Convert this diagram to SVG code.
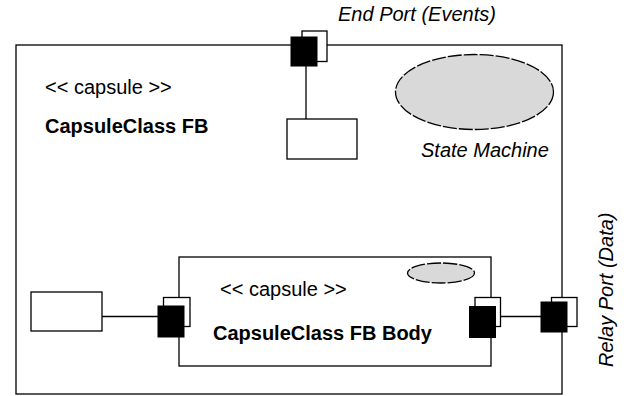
<svg xmlns="http://www.w3.org/2000/svg" width="629" height="396" viewBox="0 0 629 396">
<style>
.box{fill:#fff;stroke:#000;stroke-width:1.3}
.pw{fill:#fff;stroke:#000;stroke-width:1.3}
.pb{fill:#000;stroke:#000;stroke-width:1}
.sm{fill:#d9d9d9;stroke:#000;stroke-width:1.3;stroke-dasharray:14 2}
.ln{stroke:#000;stroke-width:1.3;fill:none}
text{font-family:"Liberation Sans",Arial,sans-serif;font-size:20px;fill:#000}
.b{font-weight:bold}
.i{font-style:italic}
</style>
<rect width="629" height="396" fill="#fff"/>
<g id="capsule-fb">
<rect class="box" x="16" y="45" width="546" height="349"/>
<text x="45" y="94">&lt;&lt; capsule &gt;&gt;</text>
<text class="b" x="45" y="133">CapsuleClass FB</text>
</g>
<g id="state-machine">
<ellipse class="sm" cx="474.5" cy="92" rx="79" ry="37.5"/>
<text class="i" x="421" y="157">State Machine</text>
</g>
<g id="capsule-fb-body">
<rect class="box" x="179" y="257" width="312" height="109"/>
<ellipse class="sm" cx="441" cy="273" rx="33.5" ry="10"/>
<text x="220" y="296">&lt;&lt; capsule &gt;&gt;</text>
<text class="b" x="213" y="340">CapsuleClass FB Body</text>
</g>
<g id="left-box">
<rect class="box" x="31" y="292" width="71" height="39"/>
</g>
<g id="event-box">
<rect class="box" x="287" y="119" width="70" height="40"/>
</g>
<g id="connectors">
<line class="ln" x1="306" y1="66" x2="306" y2="119"/>
<line class="ln" x1="102" y1="316.5" x2="158" y2="316.5"/>
<line class="ln" x1="500" y1="316.5" x2="541" y2="316.5"/>
</g>
<g id="end-port">
<rect class="pw" x="302" y="31" width="25" height="30.5"/>
<rect class="pb" x="291" y="37" width="26" height="29"/>
<text class="i" x="338" y="21">End Port (Events)</text>
</g>
<g id="body-left-port">
<rect class="pw" x="163.5" y="297.5" width="26.5" height="29"/>
<rect class="pb" x="158" y="306" width="26" height="31"/>
</g>
<g id="body-right-port">
<rect class="pw" x="475" y="297.5" width="25.5" height="29"/>
<rect class="pb" x="469.5" y="306.5" width="26" height="31"/>
</g>
<g id="relay-port">
<rect class="pw" x="551.5" y="297.5" width="25.5" height="29"/>
<rect class="pb" x="541" y="302" width="26" height="30"/>
<text class="i" transform="translate(613,367) rotate(-90)">Relay Port (Data)</text>
</g>
</svg>
